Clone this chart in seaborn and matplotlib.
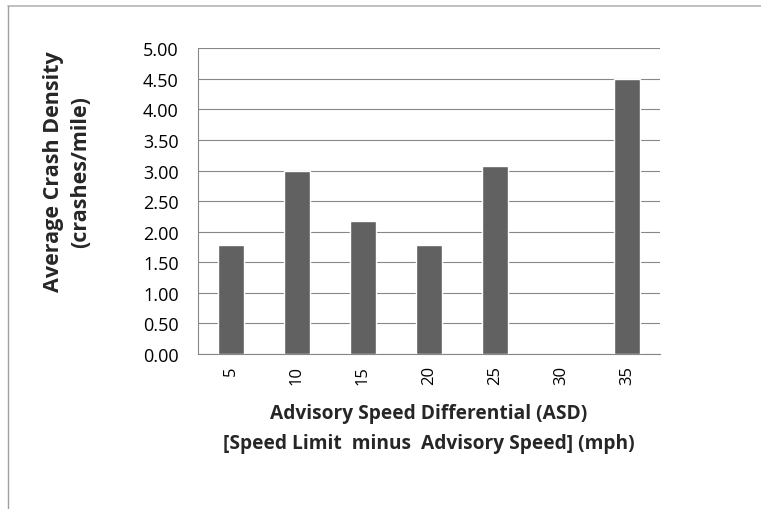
import numpy as np
import pandas as pd
import matplotlib
matplotlib.use("Agg")
import matplotlib.pyplot as plt
import seaborn as sns
from matplotlib.lines import Line2D

# values
ASD_LABELS = ["5", "10", "15", "20", "25", "30", "35"]
CRASH_DENSITY = [1.79, 3.00, 2.18, 1.78, 3.07, 0.0, 4.49]
Y_TICKS = [0.0, 0.5, 1.0, 1.5, 2.0, 2.5, 3.0, 3.5, 4.0, 4.5, 5.0]

BAR_COLOR = "#616161"
GRID_COLOR = "#878787"

sns.set_style("white")
plt.rcParams["font.family"] = ["Open Sans", "DejaVu Sans"]

df = pd.DataFrame({"asd": ASD_LABELS, "density": CRASH_DENSITY})

fig = plt.figure(figsize=(7.61, 5.10), dpi=100)
ax = fig.add_axes([198 / 761, 1 - 355 / 510, 462 / 761, (355 - 49.3) / 510])

sns.barplot(data=df, x="asd", y="density", color=BAR_COLOR, width=0.405,
            saturation=1, order=ASD_LABELS, ax=ax, zorder=3)

ax.set_xlim(-0.5, len(ASD_LABELS) - 0.5)
ax.set_ylim(0, 5)
ax.set_yticks(Y_TICKS)
ax.set_yticklabels([f"{v:.2f}" for v in Y_TICKS], fontsize=13)

# category ticks at the boundaries, labels in the middle
ax.set_xticks(range(len(ASD_LABELS)))
ax.set_xticklabels(ASD_LABELS, rotation=90, fontsize=12)
ax.set_xticks(np.arange(-0.5, len(ASD_LABELS), 1.0), minor=True)
ax.tick_params(axis="x", which="major", length=0, pad=8)
ax.tick_params(axis="x", which="minor", length=5, width=0.8, direction="out")
ax.tick_params(axis="y", length=5, width=0.8, direction="out", pad=9)
ax.tick_params(axis="both", which="both", color=GRID_COLOR, labelcolor="black")

ax.yaxis.grid(True, color=GRID_COLOR, linewidth=0.8, zorder=0)
ax.set_axisbelow(True)
for side in ["top", "right"]:
    ax.spines[side].set_visible(False)
for side in ["left", "bottom"]:
    ax.spines[side].set_color(GRID_COLOR)
    ax.spines[side].set_linewidth(0.8)

ax.set_xlabel("")
ax.set_ylabel("")

fig.text(429 / 761, 1 - 429 / 510,
         "Advisory Speed Differential (ASD)\n[Speed Limit  minus  Advisory Speed] (mph)",
         ha="center", va="center", fontsize=13.8, fontweight="bold", linespacing=1.65)
fig.text(67 / 761, 1 - 172 / 510,
         "Average Crash Density\n(crashes/mile)",
         ha="center", va="center", rotation=90, fontsize=15.5, fontweight="bold",
         linespacing=1.4, multialignment="center")

# thin frame lines on the top and left of the chart area
fig.add_artist(Line2D([8 / 761, 1], [1 - 7 / 510, 1 - 7 / 510], transform=fig.transFigure,
                      color="#b5b5b5", linewidth=1.2))
fig.add_artist(Line2D([8 / 761, 8 / 761], [0, 1 - 7 / 510], transform=fig.transFigure,
                      color="#a0a0a0", linewidth=1.0))

fig.savefig("out.png", dpi=100)
